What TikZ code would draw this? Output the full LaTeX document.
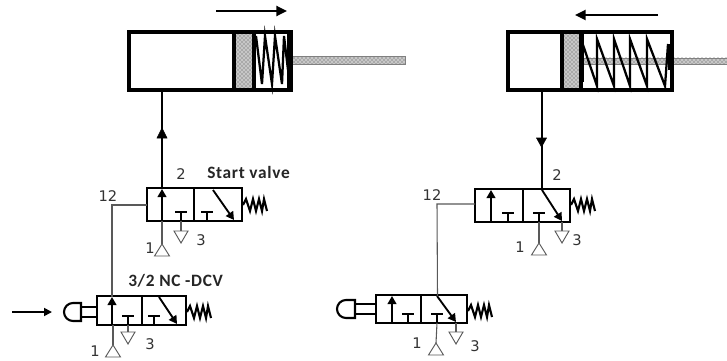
\documentclass[tikz,border=0pt]{standalone}
\usepackage{fontspec}
\setmainfont{DejaVu Sans}
\newfontfamily\lab[LetterSpace=4]{Carlito}
\usetikzlibrary{arrows.meta,patterns}
\tikzset{
  x=0.75pt,y=-0.75pt,
  thickbox/.style={draw=black,line width=2.2pt},
  cylbox/.style={draw=black,line width=2.8pt},
  midline/.style={draw=black,line width=1.3pt},
  thinline/.style={draw=black!65,line width=0.8pt},
  headed/.style={draw=black,line width=1.4pt,-{Triangle[length=6pt,width=6.5pt]}},
  stipple/.style={pattern=crosshatch dots,pattern color=black!70},
  stipbase/.style={fill=black!22},
  portsym/.style={draw=black!65,line width=0.7pt,fill=white},
  springline/.style={draw=black,line width=1.6pt,line join=miter},
  num/.style={inner sep=0pt,font=\fontsize{11}{12}\selectfont,text=black!80},
  title/.style={inner sep=0pt,font=\lab\bfseries\fontsize{13}{14}\selectfont,text=black!85},
  cylspring/.style={draw=black,line width=1.7pt,line join=miter}
}
\newcommand{\valvebody}[9]{%
  \coordinate (#9bl) at (#1,#5);
  \coordinate (#9tr) at (#3,#4);
  \coordinate (#9mt) at (#2,#4);
  \coordinate (#9mb) at (#2,#5);
  \coordinate (#9ab) at (#6,#5);
  \coordinate (#9ah) at (#6,#4+1);
  \coordinate (#9ta) at (#7,#5-9);
  \coordinate (#9tb) at (#7,#5);
  \coordinate (#9tl) at (#7-6,#5-9);
  \coordinate (#9tm) at (#7+6,#5-9);
  \coordinate (#9ua) at (#8,#5-9);
  \coordinate (#9ub) at (#8,#5);
  \coordinate (#9ul) at (#8-6,#5-9);
  \coordinate (#9ur) at (#8+6,#5-9);
  \draw[thickbox] (#9bl) rectangle (#9tr);
  \draw[thickbox] (#9mt) -- (#9mb);
  \draw[headed] (#9ab) -- (#9ah);
  \draw[midline,line width=1.8pt] (#9ta) -- (#9tb);
  \draw[midline,line width=1.8pt] (#9ua) -- (#9ub);
  \draw[midline,line width=2pt] (#9tl) -- (#9tm);
  \draw[midline,line width=2pt] (#9ul) -- (#9ur);
}
\newcommand{\vspring}[2]{%
  \draw[springline] (#1,#2) -- (#1+3,#2-6) -- (#1+7,#2+6) -- (#1+10,#2-6) -- (#1+13,#2+6) -- (#1+16,#2-6) -- (#1+19,#2+6) -- (#1+21,#2-6) -- (#1+24,#2+6);
}
\newcommand{\triup}[3]{%
  \coordinate (#3) at (#1,#2);
  \draw[portsym] (#3) -- (#1+7.5,#2+12) -- (#1-7.5,#2+12) -- cycle;
}
\newcommand{\tridown}[3]{%
  \coordinate (#3) at (#1,#2);
  \draw[portsym] (#3) -- (#1+7,#2) -- (#1,#2+12) -- (#1-7,#2) -- cycle;
}
\begin{document}
\begin{tikzpicture}
\useasboundingbox (0,0) rectangle (727,360);
\fill[white] (0,0) rectangle (727,360);

%%% LEFT CYLINDER
\coordinate (lcA) at (129,32);
\coordinate (lcB) at (291,90);
\coordinate (lcS) at (162,90);
\fill[stipbase] (292,56.5) rectangle (405,64.5);
\fill[stipple] (292,56.5) rectangle (405,64.5);
\draw[black!50,line width=0.4pt] (292,56.5) rectangle (405,64.5);
\fill[stipbase] (234,32) rectangle (253,90);
\fill[stipple] (234,32) rectangle (253,90);
\draw[cylspring] (256,36) -- (262,84) -- (265,36) -- (272,84) -- (275,36) -- (282,84) -- (284,36) -- (288,70);
\fill[black] (287,32) rectangle (292,90);
\draw[cylbox] (lcA) rectangle (lcB);
\draw[cylbox] (234,32) -- (234,90);
\draw[cylbox] (254,32) -- (254,90);
\coordinate (arLa) at (216,11);
\coordinate (arLb) at (287,11);
\draw[line width=1.7pt,-{Triangle[length=8pt,width=7.5pt]}] (arLa) -- (arLb);

%%% RIGHT CYLINDER
\coordinate (rcA) at (508,32);
\coordinate (rcB) at (672,90);
\coordinate (rcS) at (541.5,90);
\fill[stipbase] (582,58) rectangle (727,64.5);
\fill[stipple] (582,58) rectangle (727,64.5);
\draw[black!50,line width=0.4pt] (582,58) -- (727,58) (582,64.5) -- (727,64.5);
\fill[stipbase] (562,32) rectangle (580,90);
\fill[stipple] (562,32) rectangle (580,90);
\fill[black] (580,34) rectangle (584,82);
\draw[cylspring] (582,42) -- (597,86) -- (597,39) -- (614,86) -- (614,39) -- (630,86) -- (630,39) -- (647,86) -- (647,39) -- (665,86) -- (668,44);
\fill[black] (668,44) rectangle (672,70);
\draw[cylbox] (rcA) rectangle (rcB);
\draw[cylbox] (562,32) -- (562,90);
\draw[cylbox] (581,32) -- (581,90);
\coordinate (arRa) at (658,15);
\coordinate (arRb) at (575,15);
\draw[line width=1.7pt,-{Triangle[length=8pt,width=7.5pt]}] (arRa) -- (arRb);

%%% VALVES
\valvebody{147}{194}{242}{188}{221}{162}{181}{207}{a}
\valvebody{97}{142}{186}{296}{325}{112}{128}{154}{b}
\valvebody{475}{523}{570}{189}{222}{491}{508}{539}{c}
\valvebody{376}{421}{467}{295}{323}{392}{408}{437}{d}

%%% Diagonal arrows
\draw[headed] (213,190) -- (234,220);
\draw[headed] (159,297) -- (177,324);
\draw[headed] (542,190) -- (562,221);
\draw[headed] (437,296) -- (456,322);

%%% Springs
\vspring{243}{205}
\vspring{187}{312}
\vspring{571}{205}
\vspring{468}{311}

%%% Cylinder feed lines
\draw[draw=black,line width=1.1pt] (lcS) -- (162,130);
\draw[draw=black,line width=1.9pt] (162,136) -- (aah);
\draw[draw=black,fill=black] (162,128) -- (167,138) -- (157,138) -- cycle;
\draw[draw=black,line width=1.5pt] (rcS) -- (541.5,189);
\draw[draw=black,fill=black] (541.5,147) -- (546.5,138) -- (536.5,138) -- cycle;

%%% Pilot lines
\coordinate (p1) at (112,205);
\coordinate (p2) at (437,204);
\coordinate (av) at (147,205);
\coordinate (cv) at (475,204);
\draw[thinline] (av) -- (p1) -- (112,297);
\draw[thinline] (cv) -- (p2) -- (437.5,296);

%%% Port symbols
\triup{162}{244}{a1}
\draw[thinline] (162,221) -- (a1);
\tridown{181}{231}{a3}
\draw[thinline] (181,221) -- (a3);
\tridown{128}{332}{b3}
\draw[thinline] (128,325) -- (b3);
\triup{113}{345}{b1}
\draw[thinline] (113,325) -- (b1);
\triup{539}{243}{c1}
\draw[thinline] (539,222) -- (c1);
\tridown{562}{231}{c3}
\draw[thinline] (562,222) -- (c3);
\triup{436}{343}{d1}
\draw[thinline] (437,323) -- (d1);
\tridown{456}{332}{d3}
\draw[thinline] (456,323) -- (d3);

%%% Push buttons
\draw[draw=black,line width=1.6pt] (97,307) -- (81,307) (81,317) -- (97,317);
\draw[draw=black,line width=1.6pt] (81,303) -- (73,303) arc[start angle=270,end angle=90,radius=9] -- (81,321) -- cycle;
\draw[draw=black,line width=1.6pt] (376,304) -- (355,304) (355,314) -- (376,314);
\draw[draw=black,line width=1.6pt] (355,300) -- (346,300) arc[start angle=270,end angle=90,radius=9] -- (355,318) -- cycle;
\coordinate (arPa) at (12,312);
\coordinate (arPb) at (52,312);
\draw[line width=1.3pt,-{Triangle[length=6pt,width=6pt]}] (arPa) -- (arPb);

%%% Labels
\node[num] (t2a) at (181,174) {2};
\node[title,anchor=west] (tsv) at (207,172) {Start valve};
\node[num] (t12a) at (108,196) {12};
\node[num] (t3a) at (201,240) {3};
\node[num] (t1a) at (150,248) {1};
\node[title,anchor=west] (tdcv) at (128,281) {3/2 NC -DCV};
\node[num] (t1b) at (95,351) {1};
\node[num] (t3b) at (150,344) {3};
\node[num] (t2c) at (557,175) {2};
\node[num] (t12c) at (432,195) {12};
\node[num] (t1c) at (520,247) {1};
\node[num] (t3c) at (577,240) {3};
\node[num] (t1d) at (417,343) {1};
\node[num] (t3d) at (475,346) {3};
\end{tikzpicture}
\end{document}
